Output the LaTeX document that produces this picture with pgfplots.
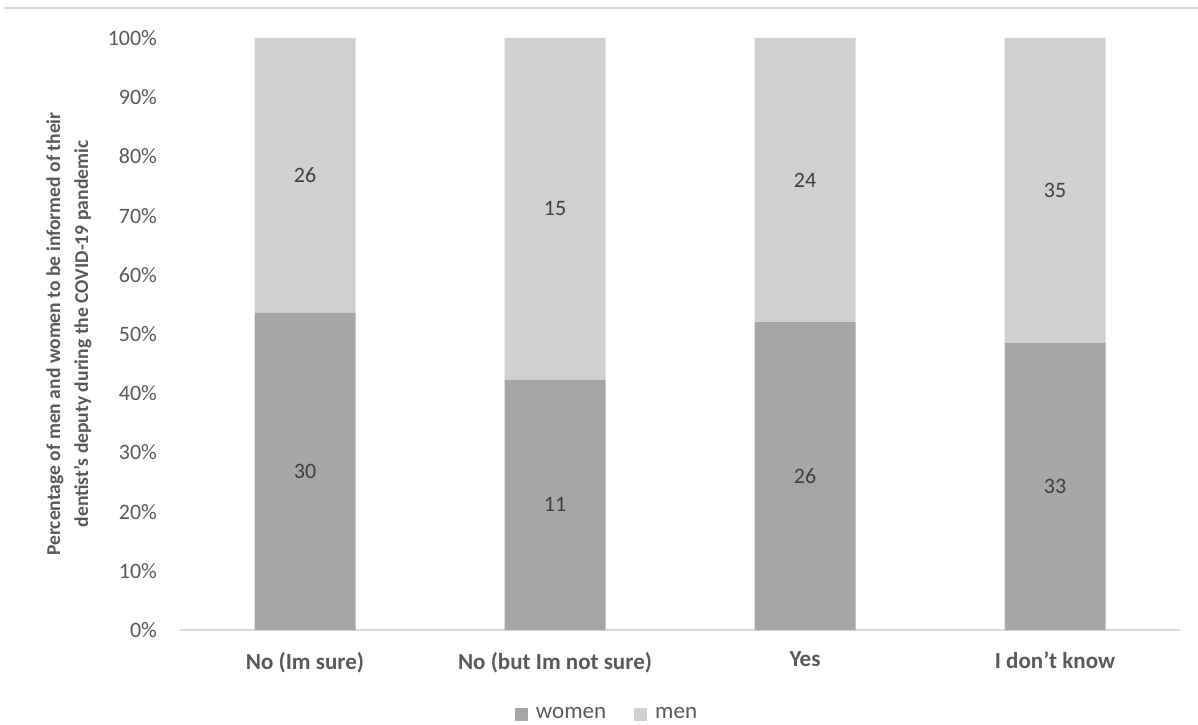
\documentclass[border=0pt]{standalone}
\usepackage{fontspec}
\setmainfont{Carlito}
\usepackage{pgfplots}
\pgfplotsset{compat=1.18}
\usepackage{pgfplotstable}
\definecolor{women}{HTML}{A6A6A6}
\definecolor{men}{HTML}{D0D0D0}
\definecolor{txt}{HTML}{595959}
\definecolor{lbl}{HTML}{404040}
\definecolor{gridc}{HTML}{D9D9D9}

\pgfplotstableread{
x pct n
0 53.57 30
1 42.31 11
2 52.00 26
3 48.53 33
}\womentab
\pgfplotstableread{
x pct n
0 46.43 26
1 57.69 15
2 48.00 24
3 51.47 35
}\mentab

\begin{document}
\begin{tikzpicture}
\useasboundingbox (0,0) rectangle (599pt,362pt);
\draw[color=gridc, line width=1pt] (2pt,358pt) -- (599pt,358pt);
\begin{axis}[
  at={(90pt,47pt)}, anchor=south west,
  scale only axis, width=500pt, height=296pt,
  ybar stacked, bar width=50.5pt,
  xmin=-0.5, xmax=3.5, ymin=0, ymax=100,
  xtick={0,1,2,3},
  xticklabels={No (Im sure), No (but Im not sure), Yes, I don't know},
  ytick={0,10,...,100},
  yticklabel={\pgfmathprintnumber{\tick}\%},
  /pgf/number format/assume math mode=true,
  axis x line*=bottom, axis y line*=left,
  x axis line style={draw=gridc, line width=0.75pt, -},
  y axis line style={draw=none},
  major tick length=0pt,
  tick style={draw=none},
  yticklabel style={font=\fontsize{11}{12}\selectfont, text=txt, xshift=-8pt},
  xticklabel style={font=\fontsize{11.5}{13}\selectfont\bfseries, text=txt, yshift=-7.5pt},
  ylabel={Percentage of men and women to be informed of their\\dentist's deputy during the COVID-19 pandemic},
  every axis y label/.style={at={(axis description cs:-0.111,0.5)}, rotate=90, anchor=center, align=center, font=\fontsize{9.8}{14}\selectfont\bfseries, text=txt},
  legend style={at={(axis description cs:0.428,-0.142)}, anchor=center, draw=none, fill=none, legend columns=2, font=\fontsize{11.5}{13}\selectfont, text=txt, inner sep=0pt, /tikz/every even column/.append style={column sep=12pt}},
  legend image code/.code={\fill[#1] (0pt,-3.25pt) rectangle (6.5pt,3.25pt); \path (0pt,0pt) -- (8.5pt,0pt);},
  point meta=explicit symbolic,
  nodes near coords,
  every node near coord/.append style={font=\fontsize{11}{12}\selectfont, text=lbl, anchor=center},
]
\addplot[fill=women, draw=none] table[x=x, y=pct, meta=n]{\womentab};
\addlegendentry{women}
\addplot[fill=men, draw=none] table[x=x, y=pct, meta=n]{\mentab};
\addlegendentry{men}
\end{axis}
\end{tikzpicture}
\end{document}
